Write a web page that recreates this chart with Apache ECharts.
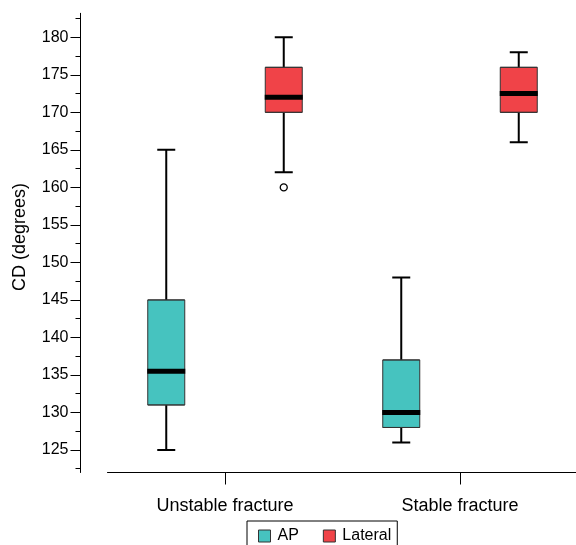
<!DOCTYPE html>
<html>
<head>
<meta charset="utf-8">
<script src="https://cdn.jsdelivr.net/npm/echarts@6/dist/echarts.min.js"></script>
<style>
  html, body { margin: 0; padding: 0; background: #fff; }
  #chart { width: 576px; height: 545px; }
</style>
</head>
<body>
<div id="chart"></div>
<script>
// ---- data ----
const categories = ['Unstable fracture', 'Stable fracture'];
const seriesNames = ['AP', 'Lateral'];
// [min, Q1, median, Q3, max] per category
const apStats = [[125, 131, 135.5, 145, 165], [126, 128, 130, 137, 148]];
const lateralStats = [[162, 170, 172, 176, 180], [166, 170, 172.5, 176, 178]];
// outliers: [categoryIndex, value]
const apOutliers = [];
const lateralOutliers = [[0, 160]];
const yTickValues = [125, 130, 135, 140, 145, 150, 155, 160, 165, 170, 175, 180];
const yMinorTickValues = [122.5, 127.5, 132.5, 137.5, 142.5, 147.5, 152.5, 157.5, 162.5, 167.5, 172.5, 177.5, 182.5];

// ---- styling ----
const colors = ['#46C3BF', '#F04348'];
const FONT = '"Liberation Sans", Arial, Helvetica, sans-serif';

const statsList = [apStats, lateralStats];
const outlierList = [apOutliers, lateralOutliers];
const pos = (ci, si) => ci * 2 + 0.5 + si; // slot position on hidden value axis

const hiddenX = () => ({ type: 'value', min: 0, max: 4, show: false, gridIndex: 0, axisLine: { onZero: false } });

const series = [];
let axisIdx = 1;
// whiskers (narrow caps)
statsList.forEach((stats, si) => {
  series.push({
    name: seriesNames[si] + '_wh',
    type: 'boxplot',
    xAxisIndex: axisIdx++,
    boxWidth: [18, 18],
    silent: true,
    itemStyle: { color: 'transparent', borderColor: '#000', borderWidth: 2 },
    data: stats.map((s, ci) => [pos(ci, si), s[0], s[2], s[2], s[2], s[4]])
  });
});
// boxes
statsList.forEach((stats, si) => {
  series.push({
    name: seriesNames[si],
    type: 'boxplot',
    xAxisIndex: axisIdx++,
    boxWidth: [37, 37],
    silent: true,
    itemStyle: { color: colors[si], borderColor: '#333', borderWidth: 1 },
    data: stats.map((s, ci) => [pos(ci, si), s[1], s[1], s[2], s[3], s[3]])
  });
});
// medians (thick)
series.push({
  name: 'median',
  type: 'scatter',
  xAxisIndex: 1,
  symbol: 'rect',
  symbolSize: [38, 5],
  silent: true,
  itemStyle: { color: '#000', opacity: 1 },
  data: statsList.flatMap((stats, si) => stats.map((s, ci) => [pos(ci, si), s[2]]))
});
// outliers
series.push({
  name: 'outliers',
  type: 'scatter',
  xAxisIndex: 1,
  symbol: 'circle',
  symbolSize: 7,
  silent: true,
  itemStyle: { color: '#fff', borderColor: '#000', borderWidth: 1.3, opacity: 1 },
  data: outlierList.flatMap((list, si) => list.map(o => [pos(o[0], si), o[1]]))
});

const option = {
  animation: false,
  backgroundColor: '#fff',
  textStyle: { fontFamily: FONT, color: '#000' },
  grid: { left: 107.5, top: 13.3, width: 470, height: 459.2, containLabel: false, outerBoundsMode: 'none' },
  legend: {
    data: seriesNames.map((n, i) => ({
      name: n,
      itemStyle: { color: colors[i], borderColor: '#333', borderWidth: 1 }
    })),
    left: 247, top: 521,
    orient: 'horizontal',
    icon: 'rect',
    itemWidth: 12, itemHeight: 12, itemGap: 24,
    padding: [7, 6, 8, 11],
    borderColor: '#000', borderWidth: 1,
    textStyle: { fontSize: 16, color: '#000', fontFamily: FONT, padding: [0, 0, 0, 2] },
    selectedMode: false
  },
  xAxis: [
    {
      type: 'category', data: categories, gridIndex: 0,
      boundaryGap: true,
      axisLine: { show: true, onZero: false, lineStyle: { color: '#000', width: 1 } },
      axisTick: { show: true, alignWithLabel: true, length: 12, lineStyle: { color: '#000', width: 1 } },
      axisLabel: { fontSize: 18, color: '#000', margin: 25, fontFamily: FONT },
      splitLine: { show: false }
    },
    hiddenX(), hiddenX(), hiddenX(), hiddenX()
  ],
  yAxis: [
    {
      type: 'value', position: 'left', min: 122, max: 183.2, offset: 27,
      name: 'CD (degrees)', nameLocation: 'middle', nameGap: 51,
      nameTextStyle: { fontSize: 18, color: '#000', fontFamily: FONT, padding: [0, 0, 0, 12] },
      axisLine: { show: true, onZero: false, lineStyle: { color: '#000', width: 1 } },
      axisTick: { show: true, length: 10, customValues: yTickValues, lineStyle: { color: '#000', width: 1 } },
      axisLabel: { fontSize: 16, color: '#000', margin: 12, customValues: yTickValues, fontFamily: FONT },
      splitLine: { show: false }
    },
    {
      type: 'value', position: 'left', min: 122, max: 183.2, offset: 27,
      axisLine: { show: false, onZero: false },
      axisTick: { show: true, length: 5, customValues: yMinorTickValues, lineStyle: { color: '#000', width: 1 } },
      axisLabel: { show: false },
      splitLine: { show: false }
    }
  ],
  series: series
};

const chart = echarts.init(document.getElementById('chart'), null, { renderer: 'canvas' });
chart.setOption(option);
</script>
</body>
</html>
